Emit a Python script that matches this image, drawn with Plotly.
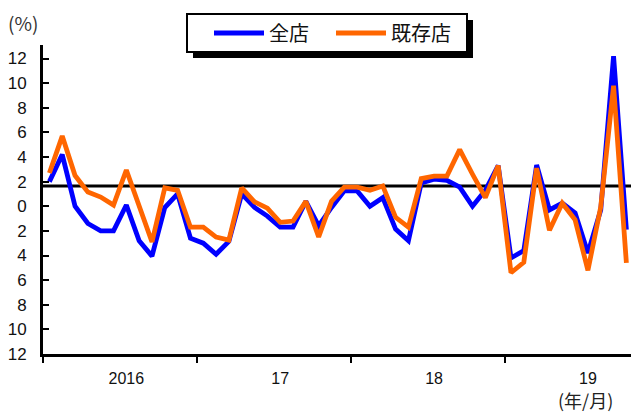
import plotly.graph_objects as go

# Data (monthly, Jan 2016 - Oct 2019), % YoY
all_stores = [2.0, 4.2, 0.0, -1.4, -2.0, -2.0, 0.1, -2.8, -4.05, -0.1,
              1.0, -2.6, -3.0, -3.9, -2.85, 1.0, -0.1, -0.8, -1.7, -1.7,
              0.4, -1.6, -0.1, 1.25, 1.25, 0.0, 0.7, -1.85, -2.8, 1.9,
              2.2, 2.1, 1.55, 0.0, 1.3, 3.3, -4.2, -3.6, 3.35, -0.3,
              0.25, -0.55, -3.8, -0.3, 12.2, -1.9]
existing_stores = [2.7, 5.7, 2.5, 1.15, 0.75, 0.1, 2.95, -0.1, -2.9, 1.5,
                   1.3, -1.7, -1.7, -2.5, -2.75, 1.5, 0.35, -0.15, -1.3, -1.2,
                   0.4, -2.5, 0.4, 1.55, 1.55, 1.3, 1.65, -0.9, -1.7, 2.25,
                   2.45, 2.45, 4.6, 2.6, 0.7, 3.3, -5.4, -4.55, 3.1, -1.95,
                   0.25, -1.1, -5.2, -0.05, 9.8, -4.6]
reference_level = 1.65

year_labels = ["2016", "17", "18", "19"]
year_label_pos = [6, 18, 30, 42]
year_boundaries = [-0.5, 11.5, 23.5, 35.5]
y_tickvals = list(range(-12, 13, 2))
y_ticktext = [str(abs(v)) for v in y_tickvals]

x = list(range(len(all_stores)))

W, H = 631, 412
# plot area in window pixels: x 43..631, y 45..354
PL, PR, PT, PB = 43, 631, 45, 354
ML, MR, MT, MB = PL, W - PR, PT, H - PB
pw, ph = PR - PL, PB - PT

def px_x(p):
    return (p - PL) / pw

def px_y(p):
    return (PB - p) / ph

fig = go.Figure()
fig.add_trace(go.Scatter(x=x, y=all_stores, mode="lines", name="全店",
                         line=dict(color="#0000FF", width=4.8)))
fig.add_trace(go.Scatter(x=x, y=existing_stores, mode="lines", name="既存店",
                         line=dict(color="#FF6600", width=4.8)))

# reference line
fig.add_shape(type="line", xref="paper", x0=0, x1=1, yref="y",
              y0=reference_level, y1=reference_level,
              line=dict(color="black", width=3), layer="below")

# legend box with shadow
fig.add_shape(type="rect", xref="paper", yref="paper",
              x0=px_x(193), x1=px_x(473), y0=px_y(58), y1=px_y(20),
              fillcolor="black", line=dict(width=0), layer="above")
fig.add_shape(type="rect", xref="paper", yref="paper",
              x0=px_x(187), x1=px_x(467), y0=px_y(52), y1=px_y(14),
              fillcolor="white", line=dict(color="black", width=2), layer="above")

fig.add_annotation(text="(%)", xref="paper", yref="paper",
                   x=px_x(23), y=px_y(23), xanchor="center", yanchor="middle",
                   showarrow=False,
                   font=dict(family="Noto Sans CJK JP", size=19, color="#333"))
fig.add_annotation(text="(年/月)", xref="paper", yref="paper",
                   x=px_x(585), y=px_y(400), xanchor="center", yanchor="middle",
                   showarrow=False,
                   font=dict(family="Noto Sans CJK JP", size=18, color="#222"))

fig.update_layout(
    width=W, height=H,
    margin=dict(l=ML, r=MR, t=MT, b=MB, autoexpand=False),
    paper_bgcolor="white", plot_bgcolor="white",
    showlegend=True,
    legend=dict(orientation="h", xref="container", yref="container",
                x=209 / W, y=1 - 33 / H,
                xanchor="left", yanchor="middle",
                bgcolor="rgba(0,0,0,0)", borderwidth=0,
                font=dict(family="Noto Sans CJK JP", size=20, color="#111"),
                itemwidth=50,
                entrywidth=57, entrywidthmode="pixels"),
    font=dict(family="Liberation Sans, Arial", size=16, color="#111"),
)
fig.update_xaxes(range=[-0.5, 45.36], showline=True, linecolor="black", linewidth=3,
                 showgrid=False, zeroline=False, automargin=False,
                 tickmode="array", tickvals=year_label_pos, ticktext=year_labels,
                 ticks="", ticklabelstandoff=8,
                 minor=dict(tickmode="array", tickvals=year_boundaries, ticks="outside",
                            ticklen=6, tickwidth=2, tickcolor="black", showgrid=False),
                 tickfont=dict(size=16))
fig.update_yaxes(range=[-12, 13.1], showline=True, linecolor="black", linewidth=3,
                 showgrid=False, zeroline=False, automargin=False,
                 tickmode="array", tickvals=y_tickvals, ticktext=y_ticktext,
                 ticks="inside", ticklen=6, tickwidth=2, tickcolor="black",
                 ticklabelstandoff=10, tickfont=dict(size=17))

# remove the browser's default 8px body margin so the figure fills the window
fig.write_html("out.html",
               config={"displayModeBar": False},
               post_script="document.body.style.margin='0';"
                           "document.documentElement.style.overflow='hidden';")
